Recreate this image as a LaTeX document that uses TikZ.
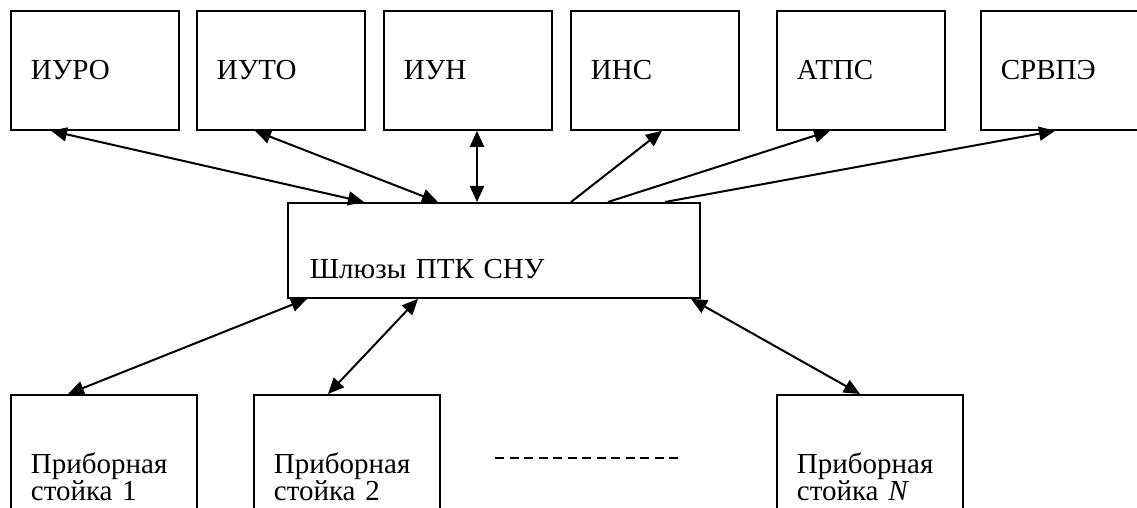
\documentclass[tikz,border=0pt]{standalone}
\usepackage{fontspec}
\setmainfont{Liberation Serif}
\usetikzlibrary{arrows.meta,calc}

\tikzset{
  blk/.style={draw, line width=0.9pt, rectangle, anchor=north west, align=left,
    inner xsep=10pt, inner ysep=0pt, font=\fontsize{14.5pt}{13.5pt}\selectfont},
  topblk/.style={blk, minimum width=84pt, minimum height=59.5pt, text width=64pt},
  rackblk/.style={blk, minimum width=93pt, minimum height=82pt, text width=73pt},
  link/.style={line width=1pt, {Triangle[length=8pt,width=7pt]}-{Triangle[length=8pt,width=7pt]}},
  uplink/.style={line width=1pt, -{Triangle[length=8pt,width=7pt]}}
}

\begin{document}
\begin{tikzpicture}[x=0.5pt,y=-0.5pt]
          \useasboundingbox (0,0) rectangle (1137,508);
          \clip (0,0) rectangle (1137,508);

          % top row
          \node[topblk] (iuro)  at (10,10)  {ИУРО};
          \node[topblk] (iuto)  at (196,10) {ИУТО};
          \node[topblk] (iun)   at (383,10) {ИУН};
          \node[topblk] (ins)   at (570,10) {ИНС};
          \node[topblk] (atps)  at (776,10) {АТПС};
          \node[topblk] (srvpe) at (980,10) {СРВПЭ};

          % gateways
          \node[blk, minimum width=206pt, minimum height=47.5pt, text width=184pt,
                inner xsep=11pt, text height=28.5pt, text depth=0pt] (gw) at (287,202)
                {Шлюзы ПТК СНУ};

          % racks
          \node[rackblk] (rack1) at (10,394)  {Приборная\\стойка 1};
          \node[rackblk] (rack2) at (253,394) {Приборная\\стойка 2};
          \node[rackblk] (rackN) at (776,394) {Приборная\\стойка \textit{N}};
          \draw[line width=0.8pt, dash pattern=on 4.5pt off 2.75pt] (495,458) -- (681,458);

          % links to top row
          \draw[link] ($(iuro.south west)+(41,0)$) -- ($(gw.north west)+(77,0)$);
          \draw[link] ($(iuto.south west)+(59,0)$) -- ($(gw.north west)+(151,0)$);
          \draw[link] ($(iun.south west)+(94,0)$) -- ($(gw.north west)+(190,0)$);
          \draw[uplink] ($(gw.north west)+(284,0)$) -- ($(ins.south west)+(92,0)$);
          \draw[uplink] ($(gw.north west)+(321,0)$) -- ($(atps.south west)+(54,0)$);
          \draw[uplink] ($(gw.north west)+(378,0)$) -- ($(srvpe.south west)+(75,0)$);

          % links to racks
          \draw[link] ($(gw.south west)+(20,0)$) -- ($(rack1.north west)+(58,0)$);
          \draw[link] ($(gw.south west)+(131,0)$) -- ($(rack2.north west)+(75,0)$);
          \draw[link] ($(gw.south west)+(404,0)$) -- ($(rackN.north west)+(84,0)$);
\end{tikzpicture}
\end{document}
